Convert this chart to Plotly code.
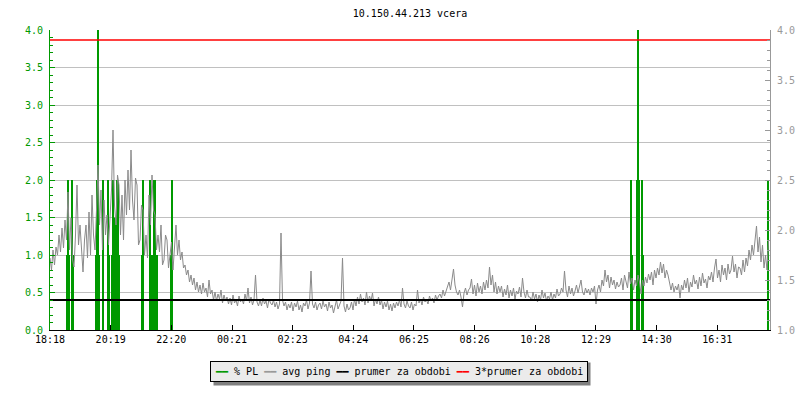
import numpy as np
import plotly.graph_objects as go

# avg ping in ms (right axis), one sample every 3 minutes from 18:18
ping_step_min = 3
ping_avg_ms = [
    1.72, 1.60, 1.80, 1.65, 1.83, 1.75, 1.95, 1.78, 2.02, 1.82, 2.10, 1.90, 2.38, 1.80, 2.12, 1.70, 1.63, 1.95, 2.45, 1.85,
    2.05, 1.75, 1.58, 1.90, 2.05, 1.72, 2.18, 1.75, 2.35, 1.95, 1.80, 2.20, 2.65, 2.05, 2.40, 1.80, 2.30, 1.95, 2.15, 1.85,
    2.10, 2.40, 3.00, 2.25, 2.05, 2.55, 2.45, 1.95, 2.35, 1.90, 2.50, 2.15, 2.60, 2.20, 2.80, 2.30, 2.10, 2.52, 2.45, 1.85,
    1.90, 2.25, 2.20, 1.75, 1.95, 1.72, 2.35, 2.05, 2.55, 2.20, 2.15, 1.80, 1.95, 1.78, 2.05, 1.65, 1.70, 1.95, 1.90, 1.62,
    1.75, 1.88, 1.60, 1.82, 2.05, 1.75, 1.90, 1.70, 1.78, 1.62, 1.65, 1.55, 1.60, 1.48, 1.55, 1.45, 1.52, 1.40, 1.48, 1.38,
    1.45, 1.36, 1.47, 1.38, 1.42, 1.33, 1.50, 1.36, 1.40, 1.30, 1.38, 1.29, 1.36, 1.31, 1.40, 1.27, 1.35, 1.29, 1.33, 1.26,
    1.32, 1.25, 1.35, 1.27, 1.30, 1.24, 1.34, 1.28, 1.31, 1.26, 1.36, 1.29, 1.42, 1.27, 1.33, 1.25, 1.30, 1.55, 1.28, 1.24,
    1.30, 1.24, 1.32, 1.26, 1.29, 1.22, 1.31, 1.27, 1.25, 1.30, 1.23, 1.28, 1.21, 1.26, 1.97, 1.30, 1.24, 1.28, 1.20, 1.26,
    1.22, 1.28, 1.19, 1.27, 1.23, 1.29, 1.20, 1.25, 1.18, 1.27, 1.24, 1.30, 1.21, 1.27, 1.59, 1.26, 1.22, 1.28, 1.20, 1.25,
    1.27, 1.21, 1.29, 1.23, 1.26, 1.19, 1.28, 1.22, 1.25, 1.17, 1.24, 1.30, 1.21, 1.26, 1.29, 1.72, 1.24, 1.18, 1.26, 1.20,
    1.22, 1.28, 1.20, 1.31, 1.24, 1.33, 1.26, 1.36, 1.28, 1.32, 1.25, 1.38, 1.27, 1.34, 1.29, 1.37, 1.24, 1.31, 1.26, 1.33,
    1.25, 1.30, 1.21, 1.28, 1.23, 1.29, 1.20, 1.26, 1.19, 1.27, 1.22, 1.28, 1.24, 1.30, 1.23, 1.42, 1.26, 1.22, 1.29, 1.24,
    1.22, 1.28, 1.20, 1.26, 1.24, 1.40, 1.27, 1.31, 1.25, 1.33, 1.28, 1.30, 1.26, 1.34, 1.29, 1.32, 1.27, 1.35, 1.30, 1.34,
    1.36, 1.32, 1.40, 1.34, 1.38, 1.42, 1.48, 1.40, 1.52, 1.61, 1.45, 1.38, 1.35, 1.40, 1.33, 1.23, 1.37, 1.42, 1.35, 1.40,
    1.42, 1.51, 1.36, 1.45, 1.34, 1.47, 1.38, 1.44, 1.36, 1.48, 1.40, 1.50, 1.42, 1.63, 1.45, 1.55, 1.38, 1.48, 1.36, 1.44,
    1.38, 1.44, 1.33, 1.41, 1.35, 1.45, 1.32, 1.40, 1.34, 1.42, 1.31, 1.39, 1.36, 1.43, 1.33, 1.52, 1.38, 1.32, 1.40, 1.33,
    1.33, 1.29, 1.38, 1.31, 1.36, 1.28, 1.35, 1.30, 1.40, 1.32, 1.37, 1.29, 1.34, 1.31, 1.38, 1.30, 1.36, 1.32, 1.41, 1.34,
    1.36, 1.42, 1.38, 1.59, 1.40, 1.33, 1.44, 1.36, 1.42, 1.34, 1.39, 1.45, 1.37, 1.43, 1.50, 1.38, 1.35, 1.42, 1.37, 1.41,
    1.35, 1.42, 1.38, 1.44, 1.26, 1.40, 1.45, 1.38, 1.50, 1.44, 1.60, 1.48, 1.55, 1.42, 1.53, 1.45, 1.50, 1.41, 1.48, 1.43,
    1.45, 1.52, 1.40, 1.55, 1.47, 1.42, 1.58, 1.46, 1.52, 1.40, 1.50, 1.44, 1.55, 1.48, 1.36, 1.50, 1.44, 1.53, 1.47, 1.56,
    1.50, 1.58, 1.45, 1.60, 1.52, 1.62, 1.55, 1.68, 1.57, 1.66, 1.52, 1.60, 1.55, 1.45, 1.40, 1.47, 1.38, 1.44, 1.40, 1.46,
    1.32, 1.45, 1.40, 1.50, 1.42, 1.52, 1.38, 1.48, 1.43, 1.55, 1.46, 1.50, 1.41, 1.53, 1.44, 1.57, 1.47, 1.51, 1.42, 1.54,
    1.50, 1.58, 1.48, 1.62, 1.71, 1.52, 1.60, 1.48, 1.65, 1.55, 1.62, 1.50, 1.66, 1.56, 1.60, 1.74, 1.58, 1.66, 1.52, 1.63,
    1.62, 1.55, 1.70, 1.58, 1.72, 1.64, 1.80, 1.70, 1.85, 1.75, 1.92, 2.04, 1.78, 1.93, 1.68, 1.85, 1.62, 1.75, 1.60, 1.90,
]
ping_period_avg = 1.3

# packet loss events (left axis): minutes after 18:18 and % lost
pl_minutes = [34, 36, 38, 44, 46, 92, 94, 96, 98, 106, 116, 118,
              124, 126, 128, 130, 132, 134, 136, 138, 184, 186,
              200, 202, 206, 208, 210, 212, 214, 242, 244,
              1162, 1164, 1174, 1176, 1178, 1184, 1186, 1436]
pl_percent = [1.0, 2.0, 1.0, 2.0, 1.0, 1.0, 2.0, 5.0, 1.0, 2.0, 2.0, 1.0,
              1.0, 2.0, 1.0, 1.5, 1.0, 2.0, 2.0, 1.0, 1.0, 2.0,
              2.0, 1.0, 1.0, 2.0, 2.0, 1.0, 1.0, 1.0, 2.0,
              2.0, 1.0, 2.0, 5.0, 2.0, 2.0, 1.0, 2.0]

tick_labels = ["18:18", "20:19", "22:20", "00:21", "02:23", "04:24",
               "06:25", "08:26", "10:28", "12:29", "14:30", "16:31"]
tick_step_min = 121.33
span_min = 1440

GREEN = "#009900"
GRAY = "#999999"
FONT = "DejaVu Sans Mono"

ping_minutes = np.arange(len(ping_avg_ms)) * ping_step_min

fig = go.Figure()

fig.add_trace(go.Scatter(
    x=ping_minutes, y=ping_avg_ms, yaxis="y2", mode="lines",
    line=dict(color="#8a8a8a", width=1), name="avg ping",
))
fig.add_trace(go.Bar(
    x=pl_minutes, y=pl_percent, width=2, name="% PL",
    marker=dict(color=GREEN, line=dict(width=0)),
))
fig.add_trace(go.Scatter(
    x=[0, span_min], y=[ping_period_avg] * 2, yaxis="y2", mode="lines",
    line=dict(color="black", width=2), name="prumer za obdobi",
))
fig.add_trace(go.Scatter(
    x=[0, span_min], y=[3 * ping_period_avg] * 2, yaxis="y2", mode="lines",
    line=dict(color="red", width=1.3), name="3*prumer za obdobi",
))

# legend drawn as a boxed text line, like the original image
legend_text = (
    f'<span style="color:{GREEN}">━━</span> % PL '
    f'<span style="color:{GRAY}">━━</span> avg ping '
    '<span style="color:black">━━</span> prumer za obdobi '
    '<span style="color:red">━━</span> 3*prumer za obdobi'
)

fig.update_layout(
    width=800, height=400,
    margin=dict(l=50, r=30, t=30, b=70, autoexpand=False),
    paper_bgcolor="white", plot_bgcolor="white",
    showlegend=False,
    font=dict(family=FONT, size=10, color="black"),
    title=dict(text="10.150.44.213 vcera", x=0.5, xref="paper",
               y=1 - 13.5 / 400, yanchor="middle",
               font=dict(family=FONT, size=10, color="black")),
    xaxis=dict(
        range=[0, span_min], automargin=False,
        tickvals=[i * tick_step_min for i in range(len(tick_labels))],
        ticktext=tick_labels,
        ticks="inside", ticklen=5, tickcolor="black",
        showline=True, linecolor="black", linewidth=1,
        showgrid=False, zeroline=False,
        tickfont=dict(family=FONT, size=10, color="black"),
    ),
    yaxis=dict(
        range=[0, 4], dtick=0.5, tickformat=".1f", automargin=False,
        ticks="inside", ticklen=5, tickcolor=GREEN,
        showline=True, linecolor=GREEN, linewidth=1,
        showgrid=True, gridcolor="#c0c0c0", zeroline=False,
        minor=dict(dtick=0.1, ticks="inside", ticklen=3, tickcolor=GREEN),
        tickfont=dict(family=FONT, size=10, color=GREEN),
        ticklabelstandoff=4,
    ),
    yaxis2=dict(
        range=[1, 4], dtick=0.5, tickformat=".1f", automargin=False,
        overlaying="y", side="right",
        ticks="inside", ticklen=5, tickcolor=GRAY,
        showline=True, linecolor=GRAY, linewidth=1,
        showgrid=False, zeroline=False,
        minor=dict(dtick=0.1, ticks="inside", ticklen=3, tickcolor=GRAY),
        tickfont=dict(family=FONT, size=10, color=GRAY),
        ticklabelstandoff=4,
    ),
    annotations=[dict(
        text=legend_text, xref="paper", yref="paper",
        x=(399 - 50) / 720, y=(330 - 371) / 300,
        xanchor="center", yanchor="middle", showarrow=False,
        bgcolor="#ebebeb", bordercolor="black", borderwidth=1, borderpad=4,
        font=dict(family=FONT, size=10, color="black"),
    )],
    shapes=[dict(
        type="rect", xref="paper", yref="paper", layer="below",
        x0=(213.5 - 50) / 720, x1=(590.5 - 50) / 720,
        y0=(330 - 385.5) / 300, y1=(330 - 362.5) / 300,
        fillcolor="#808080", line=dict(width=0),
    )],
)

# drop the browser's default page margin so the figure sits at 0,0
fig.write_html(
    "out.html",
    config={"displayModeBar": False},
    post_script="document.body.style.margin = '0';",
)
